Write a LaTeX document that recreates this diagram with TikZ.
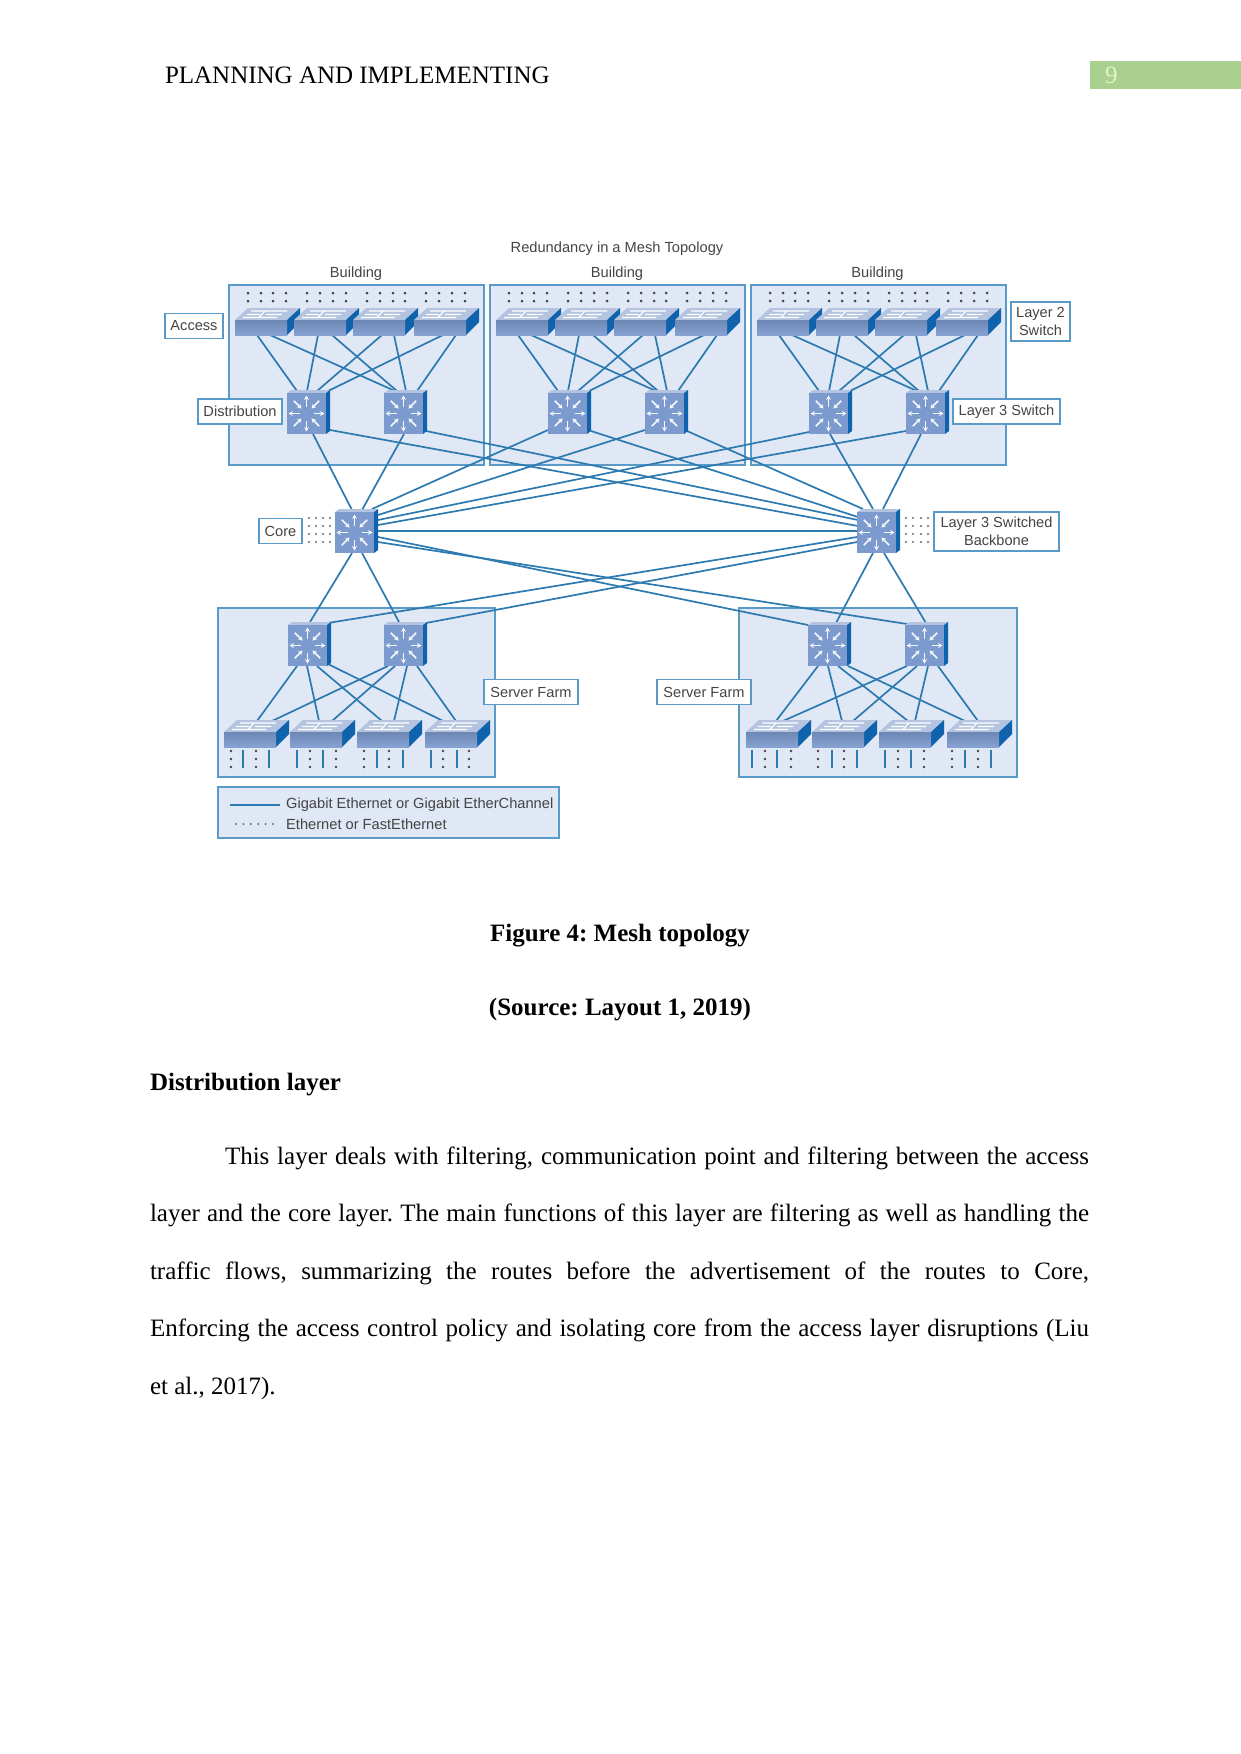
\documentclass[tikz,border=0pt]{standalone}
\usepackage{fontspec}
\setmainfont{Liberation Serif}
\newfontfamily\dgfont{Liberation Sans}
\usetikzlibrary{calc,arrows.meta}
\AtBeginDocument{\frenchspacing}
\definecolor{panelfill}{HTML}{E0E7F5}
\definecolor{panelline}{HTML}{5A9AC8}
\definecolor{linkblue}{HTML}{2C7AB0}
\definecolor{dgtext}{HTML}{444444}
\definecolor{sideblue}{HTML}{0F63AC}
\definecolor{frontblue}{HTML}{7C9ACE}
\definecolor{topblue}{HTML}{B4C4E0}
\definecolor{barnine}{HTML}{A9D08E}
\definecolor{ninetext}{HTML}{E2F5C8}
\tikzset{
  panel/.style={fill=panelfill,draw=panelline,line width=1.6pt},
  linkline/.style={draw=linkblue,line width=1.7pt},
  lab/.style={fill=white,draw=panelline,line width=1.5pt,inner sep=0pt,outer sep=0pt,text=dgtext,font=\dgfont\fontsize{14.6}{17.5}\selectfont,align=center},
  dgt/.style={text=dgtext,inner sep=0pt,font=\dgfont\fontsize{14.65}{17}\selectfont},
  acc/.style={minimum width=52pt,minimum height=15pt,inner sep=0pt,outer sep=0pt,anchor=south west},
  lthree/.style={minimum width=39pt,minimum height=41pt,inner sep=0pt,outer sep=0pt,anchor=south west},
  body/.style={inner sep=0pt,outer sep=0pt,anchor=base west,font=\fontsize{25}{30}\selectfont},
  bodyb/.style={inner sep=0pt,outer sep=0pt,font=\bfseries\fontsize{25}{30}\selectfont},
}
\newcommand\lk[4]{\draw[linkline] ($(#1)+(#2)$) -- ($(#3)+(#4)$);}
\newcommand\accart[1]{%
  \begin{scope}[shift={(#1.south west)}]
    \fill[topblue] (0,-15) -- (13,-27) -- (65,-27) -- (52,-15) -- cycle;
    \draw[white,line width=1.1pt] (8,-17.5) -- (42,-17.5) (16,-24) -- (52,-24) (12,-20.5) -- (25,-20.5) (31,-20.5) -- (47,-20.5) (24,-17.5) -- (30,-24);
    \fill[sideblue] (52,0) -- (52,-15) -- (65,-27) -- (65,-13) -- cycle;
    \shade[top color=frontblue!88!black,bottom color=frontblue!92!white] (0,0) rectangle (52,-15);
  \end{scope}}
\newcommand\lthreeart[1]{%
  \begin{scope}[shift={(#1.south west)}]
    \fill[topblue] (0,-41) -- (4,-44) -- (43,-44) -- (39,-41) -- cycle;
    \fill[sideblue] (39,0) -- (39,-41) -- (43,-44) -- (43,-3) -- cycle;
    \fill[frontblue] (0,0) rectangle (39,-41);
    \foreach \a in {0,90,180,270}
      \draw[white!92!frontblue,line width=1.6pt,-{Stealth[length=4.5pt,width=5pt]}] (19.5,-20.5) ++(\a:7) -- ++(\a:11);
    \foreach \a in {45,135,225,315}
      \draw[white!92!frontblue,line width=1.6pt,{Stealth[length=4.5pt,width=5pt]}-] (19.5,-20.5) ++(\a:7) -- ++(\a:11);
  \end{scope}}
\begin{document}
\begin{tikzpicture}[x=1pt,y=-1pt]
\useasboundingbox (0,0) rectangle (1241,1754);
\fill[white] (0,0) rectangle (1241,1754);
% header
\fill[barnine] (1090,61) rectangle (1241,89);
\node[body] (hdr) at (165,83) {PLANNING AND IMPLEMENTING};
\node[body,text=ninetext] (pg) at (1105,83) {9};
% panels
\foreach \n/\s in {1/0,2/261,3/522}
  \draw[panel] (229+\s,285) rectangle (484+\s,465);
\draw[panel] (218,608) rectangle (495,777);
\draw[panel] (739,608) rectangle (1017,777);
\draw[panel] (218,787) rectangle (559,838);
% named anchors
\foreach \b/\s in {1/0,2/261,3/522}{
  \path (235+\s,335) node[acc] (a\b1) {};
  \path (294+\s,335) node[acc] (a\b2) {};
  \path (353+\s,335) node[acc] (a\b3) {};
  \path (414+\s,335) node[acc] (a\b4) {};
  \path (287+\s,434) node[lthree] (d\b1) {};
  \path (384+\s,434) node[lthree] (d\b2) {};
}
\path (335,553) node[lthree] (core) {};
\path (857,553) node[lthree] (bb) {};
\path (288,666) node[lthree] (l1) {};
\path (384,666) node[lthree] (l2) {};
\path (808,666) node[lthree] (r1) {};
\path (905,666) node[lthree] (r2) {};
\path (224,747) node[acc] (s1) {};
\path (290,747) node[acc] (s2) {};
\path (357,747) node[acc] (s3) {};
\path (425,747) node[acc] (s4) {};
\path (746,747) node[acc] (t1) {};
\path (812,747) node[acc] (t2) {};
\path (879,747) node[acc] (t3) {};
\path (947,747) node[acc] (t4) {};
% building links
\foreach \b in {1,2,3}{
  \lk{a\b1.south west}{22,0}{d\b1.north west}{10,-2}
  \lk{a\b1.south west}{35,0}{d\b2.north west}{11,-2}
  \lk{a\b2.south west}{24,0}{d\b1.north west}{20,-2}
  \lk{a\b2.south west}{38,0}{d\b2.north west}{13,-2}
  \lk{a\b3.south west}{29,0}{d\b1.north west}{30,-2}
  \lk{a\b3.south west}{41,0}{d\b2.north west}{22,-2}
  \lk{a\b4.south west}{29,0}{d\b1.north west}{41,-2}
  \lk{a\b4.south west}{42,0}{d\b2.north west}{33,-2}
}
% to core / backbone
\lk{d11.south west}{26,0}{core.north west}{17,-2}
\lk{d12.south west}{20,0}{core.north west}{27,-2}
\lk{d31.south west}{21,0}{bb.north west}{16,-3}
\lk{d32.south west}{15,0}{bb.north west}{26,-3}
\lk{core.north west}{37,-3}{d21.south west}{0,-4}
\lk{core.north west}{43,3}{d22.south west}{0,-4}
\lk{core.north west}{43,8}{d31.south west}{0,-2}
\lk{core.north west}{43,13}{d32.south west}{0,-3}
\lk{core.north west}{43,19}{bb.north west}{0,19}
\lk{core.north west}{43,25}{r1.north west}{0,0}
\lk{core.north west}{43,30}{r2.north west}{2,-1}
\lk{d11.south west}{43,-4}{bb.north west}{1,14}
\lk{d12.south west}{42,-3}{bb.north west}{1,8}
\lk{d21.south west}{43,-3}{bb.north west}{1,5}
\lk{d22.south west}{42,-3}{bb.north west}{6,-3}
\lk{l1.north west}{40,-2}{bb.north west}{0,25}
\lk{l2.north west}{42,-2}{bb.north west}{0,30}
\lk{core.south west}{17,0}{l1.north west}{22,-3}
\lk{core.south west}{27,0}{l2.north west}{15,-3}
\lk{bb.south west}{16,0}{r1.north west}{28,-2}
\lk{bb.south west}{27,0}{r2.north west}{21,-2}
% server farm links
\lk{l1.south west}{9,0}{s1.south west}{33,-26}
\lk{l1.south west}{19,0}{s2.south west}{29,-26}
\lk{l1.south west}{29,0}{s3.south west}{25,-26}
\lk{l1.south west}{38,-3}{s4.south west}{18,-26}
\lk{l2.south west}{4,0}{s1.south west}{48,-26}
\lk{l2.south west}{11,0}{s2.south west}{42,-26}
\lk{l2.south west}{23,0}{s3.south west}{37,-26}
\lk{l2.south west}{33,0}{s4.south west}{31,-26}
\lk{r1.south west}{10,0}{t1.south west}{30,-26}
\lk{r1.south west}{20,0}{t2.south west}{30,-26}
\lk{r1.south west}{30,0}{t3.south west}{29,-26}
\lk{r1.south west}{40,0}{t4.south west}{18,-26}
\lk{r2.south west}{2,0}{t1.south west}{37,-26}
\lk{r2.south west}{12,0}{t2.south west}{41,-26}
\lk{r2.south west}{23,0}{t3.south west}{36,-26}
\lk{r2.south west}{33,0}{t4.south west}{31,-26}
% switch art
\foreach \n in {a11,a12,a13,a14,a21,a22,a23,a24,a31,a32,a33,a34,s1,s2,s3,s4,t1,t2,t3,t4}{\accart{\n}}
\foreach \n in {d11,d12,d21,d22,d31,d32,core,bb,l1,l2,r1,r2}{\lthreeart{\n}}
% dots above access switches
\foreach \s in {0,261,522}
  \foreach \x in {248,261,273,286,307,320,333,346,367,380,393,405,426,439,452,465}
    \foreach \y in {293,301}
      \fill[dgtext] (\x+\s,\y) circle (1.5pt);
% dots core / backbone
\foreach \x in {309,316,323,330,906,913,921,928}
  \foreach \y in {518,526,534,542}
    \fill[dgtext!80!white] (\x,\y) circle (1.2pt);
% server drops
\foreach \x in {243,269,297,323,377,403,431,457,752,777,832,857,885,911,965,991}
  \draw[draw=linkblue,line width=1.8pt] (\x,750) -- (\x,768);
\foreach \x in {231,256,310,336,364,389,443,469,765,791,818,844,898,924,952,978}
  \foreach \y in {751,759,767}
    \fill[dgtext] (\x,\y) circle (1.3pt);
% labels
\node[lab,minimum width=58pt,minimum height=25pt] (lacc) at (194,326) {Access};
\node[lab,minimum width=84pt,minimum height=25pt] (ldist) at (240,411.5) {Distribution};
\node[lab,minimum width=43pt,minimum height=25pt] (lcore) at (280.5,531) {Core};
\node[lab,minimum width=59pt,minimum height=39pt] (ll2) at (1040.5,321.5) {Layer 2\\Switch};
\node[lab,minimum width=107pt,minimum height=25pt] (ll3) at (1006.5,411.5) {Layer 3 Switch};
\node[lab,minimum width=125pt,minimum height=39pt] (lbb) at (996.5,531.5) {Layer 3 Switched\\Backbone};
\node[lab,minimum width=94pt,minimum height=25pt] (lsf) at (531,692) {Server Farm};
\node[lab,minimum width=94pt,minimum height=25pt] (rsf) at (704,692) {Server Farm};
% titles
\node[dgt] (ttl) at (617,249) {Redundancy in a Mesh Topology};
\node[dgt] (b1t) at (356,273.5) {Building};
\node[dgt] (b2t) at (617,273.5) {Building};
\node[dgt] (b3t) at (877.5,273.5) {Building};
% legend
\coordinate (lega) at (230,805);
\coordinate (legb) at (280,805);
\draw[draw=linkblue,line width=1.5pt] (lega) -- (legb);
\foreach \x in {236,243.4,250.8,258.2,265.6,273}
  \fill[dgtext!80!white] (\x,824) circle (1.1pt);
\node[dgt,anchor=west] (leg1) at (286,805) {Gigabit Ethernet or Gigabit EtherChannel};
\node[dgt,anchor=west] (leg2) at (286,824) {Ethernet or FastEthernet};
% page text
\node[bodyb,anchor=base] (cap1) at (620,941) {Figure 4: Mesh topology};
\node[bodyb,anchor=base] (cap2) at (620,1015) {(Source: Layout 1, 2019)};
\node[bodyb,anchor=base west] (sec) at (150,1090) {Distribution layer};
\node[body] (p1) at (225,1164) {\hbox to 864pt{This layer deals with filtering, communication point and filtering between the access}};
\node[body] (p2) at (150,1221) {\hbox to 939pt{layer and the core layer. The main functions of this layer are filtering as well as handling the}};
\node[body] (p3) at (150,1279) {\hbox to 939pt{traffic flows, summarizing the routes before the advertisement of the routes to Core,}};
\node[body] (p4) at (150,1336) {\hbox to 939pt{Enforcing the access control policy and isolating core from the access layer disruptions (Liu}};
\node[body] (p5) at (150,1394) {et al., 2017).};
\end{tikzpicture}
\end{document}
